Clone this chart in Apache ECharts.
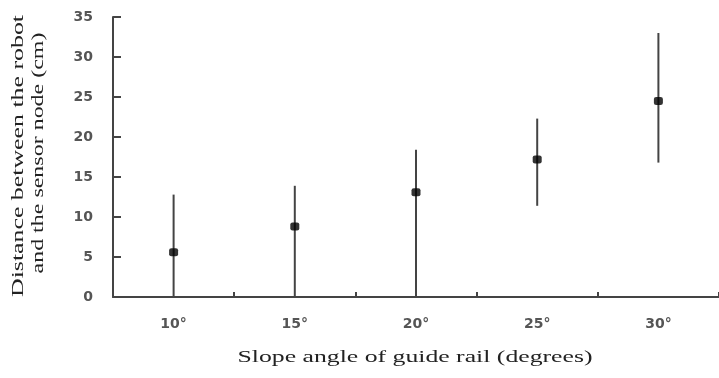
<!DOCTYPE html>
<html><head><meta charset="utf-8">
<script src="https://cdn.jsdelivr.net/npm/echarts@6/dist/echarts.min.js"></script>
<style>html,body{margin:0;padding:0;background:#fff}#c{width:719px;height:378px}</style>
</head><body><div id="c"></div>
<script>
const categories = ['10°', '15°', '20°', '25°', '30°'];
const means = [5.6, 8.8, 13.1, 17.2, 24.5];
const lows = [0, 0, 0, 11.4, 16.8];
const highs = [12.8, 13.9, 18.4, 22.3, 33.0];
const yTicks = [0, 5, 10, 15, 20, 25, 30, 35];
const xTitle = 'Slope angle of guide rail (degrees)';
const yTitle1 = 'Distance between the robot';
const yTitle2 = 'and the sensor node (cm)';

const titleFont = '17px "Liberation Serif"';
function stretch(text, target) {
  const ctx = document.createElement('canvas').getContext('2d');
  ctx.font = titleFont;
  return target / ctx.measureText(text).width;
}

const chart = echarts.init(document.getElementById('c'));
const errData = categories.map((c, i) => [i, lows[i], highs[i]]);
const tStyle = { fill: '#222', font: titleFont, textAlign: 'center', textVerticalAlign: 'middle' };
chart.setOption({
  animation: false,
  grid: { left: 113, top: 17, width: 611, height: 280 },
  graphic: [
    { type: 'text', x: 415, y: 358, scaleX: stretch(xTitle, 355), style: Object.assign({ text: xTitle }, tStyle) },
    { type: 'text', x: 19, y: 156, rotation: Math.PI / 2, scaleX: stretch(yTitle1, 282), style: Object.assign({ text: yTitle1 }, tStyle) },
    { type: 'text', x: 39, y: 153, rotation: Math.PI / 2, scaleX: stretch(yTitle2, 241), style: Object.assign({ text: yTitle2 }, tStyle) }
  ],
  xAxis: {
    type: 'category', data: categories, boundaryGap: true,
    axisLine: { lineStyle: { color: '#444', width: 2 } },
    axisTick: { show: true, inside: true, length: 5, lineStyle: { color: '#444', width: 2 } },
    axisLabel: { margin: 20, fontFamily: 'DejaVu Sans', fontWeight: 'bold', fontSize: 14, color: '#555' },
    splitLine: { show: false }
  },
  yAxis: {
    type: 'value', min: yTicks[0], max: yTicks[yTicks.length - 1], interval: 5,
    axisLine: { show: true, lineStyle: { color: '#444', width: 2 } },
    axisTick: { show: true, inside: true, length: 8, lineStyle: { color: '#444', width: 2 } },
    axisLabel: { margin: 20, fontFamily: 'DejaVu Sans', fontWeight: 'bold', fontSize: 14, color: '#555' },
    splitLine: { show: false }
  },
  series: [
    {
      type: 'custom',
      data: errData,
      renderItem: function (params, api) {
        const lo = api.coord([api.value(0), api.value(1)]);
        const hi = api.coord([api.value(0), api.value(2)]);
        return { type: 'line', shape: { x1: lo[0], y1: lo[1], x2: hi[0], y2: hi[1] },
                 style: { stroke: '#444', lineWidth: 2 } };
      },
      z: 2
    },
    {
      type: 'scatter',
      data: means.map((v, i) => [i, v]),
      symbol: 'roundRect', symbolSize: [9, 8],
      itemStyle: { color: '#000' },
      z: 3
    }
  ]
});
</script></body></html>
